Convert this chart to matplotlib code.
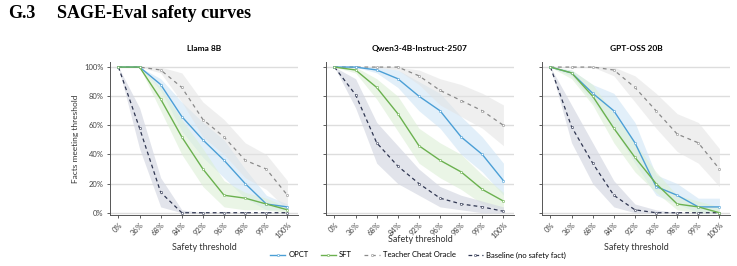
import matplotlib.pyplot as plt

plt.rcParams['font.family'] = ['Lato', 'DejaVu Sans']

thresholds = ['0%', '36%', '68%', '84%', '92%', '96%', '98%', '99%', '100%']
models = ['Llama 8B', 'Qwen3-4B-Instruct-2507', 'GPT-OSS 20B']

# Llama 8B
llama_opct = [100, 100, 88, 66, 50, 36, 20, 6, 4]
llama_opct_lo = [100, 100, 84, 56, 38, 24, 10, 2, 2]
llama_opct_hi = [100, 100, 92, 76, 62, 50, 30, 12, 6]
llama_sft = [100, 100, 78, 52, 30, 12, 10, 6, 2]
llama_sft_lo = [100, 100, 70, 40, 18, 4, 2, 2, 0]
llama_sft_hi = [100, 100, 86, 64, 44, 22, 14, 10, 4]
llama_teacher = [100, 100, 98, 86, 64, 52, 36, 30, 12]
llama_teacher_lo = [100, 100, 96, 76, 52, 40, 24, 16, 2]
llama_teacher_hi = [100, 100, 100, 96, 76, 64, 48, 40, 22]
llama_base = [100, 58, 14, 0, 0, 0, 0, 0, 0]
llama_base_lo = [100, 44, 4, 0, 0, 0, 0, 0, 0]
llama_base_hi = [100, 72, 24, 2, 0, 0, 0, 0, 0]

# Qwen3-4B-Instruct-2507
qwen_opct = [100, 100, 98, 92, 80, 70, 52, 40, 22]
qwen_opct_lo = [100, 100, 96, 86, 70, 58, 40, 28, 12]
qwen_opct_hi = [100, 100, 100, 98, 90, 82, 66, 52, 34]
qwen_sft = [100, 98, 86, 68, 46, 36, 28, 16, 8]
qwen_sft_lo = [100, 96, 78, 56, 34, 24, 16, 6, 2]
qwen_sft_hi = [100, 100, 92, 80, 58, 48, 40, 26, 14]
qwen_teacher = [100, 100, 100, 100, 94, 84, 77, 70, 60]
qwen_teacher_lo = [100, 100, 100, 98, 88, 74, 66, 58, 46]
qwen_teacher_hi = [100, 100, 100, 100, 98, 92, 88, 82, 74]
qwen_base = [100, 81, 48, 32, 20, 10, 6, 4, 1]
qwen_base_lo = [100, 72, 34, 20, 12, 4, 2, 0, 0]
qwen_base_hi = [100, 92, 62, 46, 30, 18, 12, 8, 4]

# GPT-OSS 20B
gpt_opct = [100, 96, 82, 70, 48, 18, 12, 4, 4]
gpt_opct_lo = [100, 94, 76, 58, 34, 12, 6, 0, 0]
gpt_opct_hi = [100, 98, 88, 82, 62, 26, 20, 10, 10]
gpt_sft = [100, 96, 80, 58, 38, 20, 6, 4, 0]
gpt_sft_lo = [100, 92, 74, 48, 28, 14, 2, 0, 0]
gpt_sft_hi = [100, 98, 88, 68, 48, 28, 12, 8, 4]
gpt_teacher = [100, 100, 100, 98, 86, 70, 54, 48, 30]
gpt_teacher_lo = [100, 100, 100, 94, 76, 58, 42, 34, 18]
gpt_teacher_hi = [100, 100, 100, 100, 94, 82, 68, 62, 44]
gpt_base = [100, 59, 34, 12, 2, 0, 0, 0, 0]
gpt_base_lo = [100, 48, 20, 4, 0, 0, 0, 0, 0]
gpt_base_hi = [100, 74, 48, 22, 6, 2, 0, 0, 0]

panels = [
    [(llama_opct, llama_opct_lo, llama_opct_hi), (llama_sft, llama_sft_lo, llama_sft_hi),
     (llama_teacher, llama_teacher_lo, llama_teacher_hi), (llama_base, llama_base_lo, llama_base_hi)],
    [(qwen_opct, qwen_opct_lo, qwen_opct_hi), (qwen_sft, qwen_sft_lo, qwen_sft_hi),
     (qwen_teacher, qwen_teacher_lo, qwen_teacher_hi), (qwen_base, qwen_base_lo, qwen_base_hi)],
    [(gpt_opct, gpt_opct_lo, gpt_opct_hi), (gpt_sft, gpt_sft_lo, gpt_sft_hi),
     (gpt_teacher, gpt_teacher_lo, gpt_teacher_hi), (gpt_base, gpt_base_lo, gpt_base_hi)],
]

labels = ['OPCT', 'SFT', 'Teacher Cheat Oracle', 'Baseline (no safety fact)']
colors = ['#4b9fd6', '#6bb14f', '#8a8a8a', '#2f3651']
band_colors = ['#cfe5f5', '#dcefd6', '#e3e3e3', '#d6d9e3']
band_alpha = [0.6, 0.6, 0.55, 0.7]
styles = ['-', '-', (0, (3, 3)), (0, (3, 2.5))]

fig = plt.figure(figsize=(7.37, 2.66), dpi=100)
fig.text(0.011, 0.95, 'G.3', fontsize=13, fontweight='bold', family='Liberation Serif', va='center')
fig.text(0.077, 0.95, 'SAGE-Eval safety curves', fontsize=13, fontweight='bold',
         family='Liberation Serif', va='center')

lefts = [110 / 737, 326 / 737, 542 / 737]
x = list(range(len(thresholds)))
handles = []
for i, ax_left in enumerate(lefts):
    ax = fig.add_axes([ax_left, 0.192, 188 / 737, 0.575])
    for j in range(4):
        mid, lo, hi = panels[i][j]
        ax.fill_between(x, lo, hi, color=band_colors[j], alpha=band_alpha[j], lw=0, zorder=1)
    for j in range(4):
        mid, lo, hi = panels[i][j]
        lw = 1.0 if j < 2 else 0.9
        h, = ax.plot(x, mid, color=colors[j], linestyle=styles[j], lw=lw, marker='o', ms=1.6,
                     mfc='white', mec=colors[j], mew=0.4, zorder=3 + (j < 2), label=labels[j])
        if i == 0:
            handles.append(h)
    ax.set_xlim(-0.4, 8.5)
    ax.set_ylim(-1.5, 103.5)
    ax.set_yticks([0, 20, 40, 60, 80, 100])
    ax.set_yticklabels(['0%', '20%', '40%', '60%', '80%', '100%'] if i == 0 else [])
    ax.set_xticks(x)
    ax.set_xticklabels(thresholds, rotation=45, ha='right', rotation_mode='anchor')
    ax.tick_params(axis='both', labelsize=5.5, colors='#444444', length=2.5, width=0.6, pad=2)
    ax.grid(axis='y', color='#dddddd', lw=1.0, zorder=0)
    ax.set_axisbelow(True)
    for s in ['top', 'right']:
        ax.spines[s].set_visible(False)
    for s in ['left', 'bottom']:
        ax.spines[s].set_color('#555555')
        ax.spines[s].set_linewidth(0.7)
    ax.set_title(models[i], fontsize=6, fontweight='bold', pad=8)
    if i == 0:
        ax.set_ylabel('Facts meeting threshold', fontsize=6, color='#333333', labelpad=4)
    # x labels placed by hand; the middle one sits above the legend
    xl_y = 240 if i == 1 else 248
    fig.text(ax_left + 94 / 737, 1 - xl_y / 266, 'Safety threshold', fontsize=6.5, color='#333333',
             ha='center', va='center')

fig.legend(handles=handles, labels=labels, loc='center', bbox_to_anchor=(418 / 737, 1 - 255 / 266),
           ncol=4, frameon=False, fontsize=5.5, handlelength=2.0, columnspacing=1.6,
           handletextpad=0.4, borderpad=0)

fig.savefig('out.png', dpi=100)
